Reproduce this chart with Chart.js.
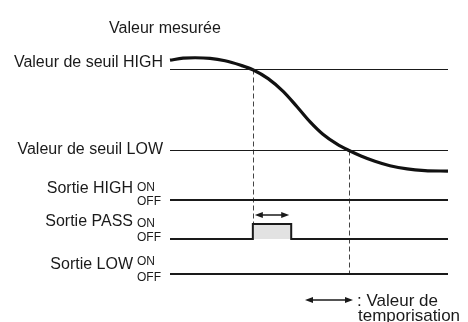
<!DOCTYPE html>
<html>
<head>
<meta charset="utf-8">
<script src="https://cdn.jsdelivr.net/npm/chart.js@4/dist/chart.umd.min.js"></script>
<style>
  html, body { margin: 0; padding: 0; background: #fff; }
  canvas { display: block; }
</style>
</head>
<body>
<canvas id="chart" width="468" height="322"></canvas>
<script>
// measured value over time (time in arbitrary units 0..100)
const TIME = [0, 4.7, 9, 14.4, 19.8, 25.2, 29.8, 35.3, 40.7, 45.7, 50.4, 55, 60.1, 64.4, 68.7, 73.7, 79.1, 85.3, 91.7, 100];
const MEASURED = [84.6, 85.6, 85.8, 85.5, 84.3, 82.2, 79.9, 75.5, 69.2, 61.6, 54.1, 48.0, 43.1, 40.0, 37.3, 34.7, 32.5, 30.9, 30.1, 29.8];
const THRESHOLD_HIGH = 80;
const THRESHOLD_LOW = 40;

// outputs: 1 = ON, 0 = OFF
const SWITCH_TIMES = [0, 29.8, 43.6, 100];
const OUT_HIGH = [0, 0, 0, 0];
const OUT_PASS = [0, 1, 0, 0];
const OUT_LOW = [0, 0, 0, 0];
const T_CROSS_HIGH = 29.8;
const T_CROSS_LOW = 64.4;
const DELAY = 13.8;

const AXIS_TITLE = 'Valeur mesurée';
const THRESHOLD_LABELS = ['Valeur de seuil HIGH', 'Valeur de seuil LOW'];
const OUTPUT_LABELS = ['Sortie HIGH', 'Sortie PASS', 'Sortie LOW'];
const STATE_LABELS = ['ON', 'OFF'];
const LEGEND_LABELS = [': Valeur de', 'temporisation'];

const H = 322;
const INK = '#1a1a1a';
const FONT = '16px "Liberation Sans", Arial, sans-serif';
const SMALL = '12px "Liberation Sans", Arial, sans-serif';
const LEGEND_FONT = '17px "Liberation Sans", Arial, sans-serif';

// scale range that puts value v0 at pixel p0 and v1 at pixel p1
function lane(v0, p0, v1, p1) {
  const k = (p1 - p0) / (v1 - v0);
  return { min: v0 + (H - p0) / k, max: v0 - p0 / k };
}

const pts = (xs, ys) => xs.map((x, i) => ({ x, y: ys[i] }));
const flat = v => [{ x: 0, y: v }, { x: 100, y: v }];

// label offsets per output row, relative to its OFF level
const ROWS = [
  { axis: 'yHigh', label: -7.3, on: -9.3, off: 5.3 },
  { axis: 'yPass', label: -13.3, on: -12.3, off: 2 },
  { axis: 'yLow', label: -5, on: -9, off: 6.7 },
];

function arrow(ctx, x1, x2, y, head = 8, half = 3) {
  ctx.beginPath();
  ctx.moveTo(x1 + head - 1, y);
  ctx.lineTo(x2 - head + 1, y);
  ctx.stroke();
  ctx.beginPath();
  ctx.moveTo(x1, y); ctx.lineTo(x1 + head, y - half); ctx.lineTo(x1 + head, y + half); ctx.closePath();
  ctx.moveTo(x2, y); ctx.lineTo(x2 - head, y - half); ctx.lineTo(x2 - head, y + half); ctx.closePath();
  ctx.fill();
}

const diagram = {
  id: 'diagram',
  beforeDatasetsDraw(chart) {
    const { ctx, scales } = chart;
    ctx.save();
    ctx.strokeStyle = '#444';
    ctx.lineWidth = 1;
    ctx.setLineDash([5, 3]);
    const xa = Math.round(scales.x.getPixelForValue(T_CROSS_HIGH)) + 0.5;
    const xb = Math.round(scales.x.getPixelForValue(T_CROSS_LOW)) + 0.5;
    ctx.beginPath();
    ctx.moveTo(xa, scales.yMeas.getPixelForValue(THRESHOLD_HIGH));
    ctx.lineTo(xa, scales.yPass.getPixelForValue(1));
    ctx.moveTo(xb, scales.yMeas.getPixelForValue(THRESHOLD_LOW));
    ctx.lineTo(xb, scales.yLow.getPixelForValue(0));
    ctx.stroke();
    ctx.restore();
  },
  afterDatasetsDraw(chart) {
    const { ctx, scales, chartArea } = chart;
    const left = chartArea.left;
    ctx.save();
    ctx.fillStyle = INK;
    ctx.strokeStyle = INK;
    ctx.textBaseline = 'alphabetic';

    ctx.font = FONT;
    ctx.textAlign = 'center';
    ctx.fillText(AXIS_TITLE, left - 5, 32.5);

    ctx.textAlign = 'right';
    ctx.fillText(THRESHOLD_LABELS[0], left - 7, scales.yMeas.getPixelForValue(THRESHOLD_HIGH) - 2.8);
    ctx.fillText(THRESHOLD_LABELS[1], left - 7, scales.yMeas.getPixelForValue(THRESHOLD_LOW) + 3.5);

    ROWS.forEach((row, i) => {
      const off = scales[row.axis].getPixelForValue(0);
      ctx.font = FONT;
      ctx.textAlign = 'right';
      ctx.fillText(OUTPUT_LABELS[i], left - 37, off + row.label);
      ctx.font = SMALL;
      ctx.textAlign = 'left';
      ctx.fillText(STATE_LABELS[0], left - 33, off + row.on);
      ctx.fillText(STATE_LABELS[1], left - 33, off + row.off);
    });

    // delay arrow over the PASS pulse
    ctx.lineWidth = 1.5;
    const ay = scales.yPass.getPixelForValue(1.6);
    arrow(ctx, scales.x.getPixelForValue(T_CROSS_HIGH) + 2, scales.x.getPixelForValue(T_CROSS_HIGH + DELAY) - 2, ay);

    // legend
    arrow(ctx, 305, 353, 300);
    ctx.font = LEGEND_FONT;
    ctx.textAlign = 'left';
    ctx.fillText(LEGEND_LABELS[0], 357, 305.5);
    ctx.fillText(LEGEND_LABELS[1], 358, 321);
    ctx.restore();
  },
};

const thin = { borderColor: INK, borderWidth: 1, pointRadius: 0, clip: false, yAxisID: 'yMeas' };
const output = { borderColor: INK, borderWidth: 2, pointRadius: 0, clip: false, stepped: true };

new Chart(document.getElementById('chart'), {
  type: 'line',
  data: {
    datasets: [
      { ...thin, data: flat(THRESHOLD_HIGH) },
      { ...thin, data: flat(THRESHOLD_LOW) },
      {
        data: pts(TIME, MEASURED), yAxisID: 'yMeas', borderColor: '#111', borderWidth: 3.2,
        pointRadius: 0, cubicInterpolationMode: 'monotone', clip: false,
      },
      { ...output, yAxisID: 'yHigh', data: pts(SWITCH_TIMES, OUT_HIGH) },
      { ...output, yAxisID: 'yPass', data: pts(SWITCH_TIMES, OUT_PASS), fill: { value: 0 }, backgroundColor: '#e2e2e2' },
      { ...output, yAxisID: 'yLow', data: pts(SWITCH_TIMES, OUT_LOW) },
    ],
  },
  options: {
    responsive: false,
    animation: false,
    layout: { padding: { left: 170, right: 20, top: 0, bottom: 0 } },
    plugins: { legend: { display: false }, tooltip: { enabled: false } },
    scales: {
      x: { type: 'linear', min: 0, max: 100, display: false },
      yMeas: { type: 'linear', display: false, ...lane(THRESHOLD_HIGH, 69.5, THRESHOLD_LOW, 150.5) },
      yHigh: { type: 'linear', display: false, ...lane(0, 200, 1, 185) },
      yPass: { type: 'linear', display: false, ...lane(0, 239, 1, 224) },
      yLow: { type: 'linear', display: false, ...lane(0, 274, 1, 259) },
    },
  },
  plugins: [diagram],
});
</script>
</body>
</html>
